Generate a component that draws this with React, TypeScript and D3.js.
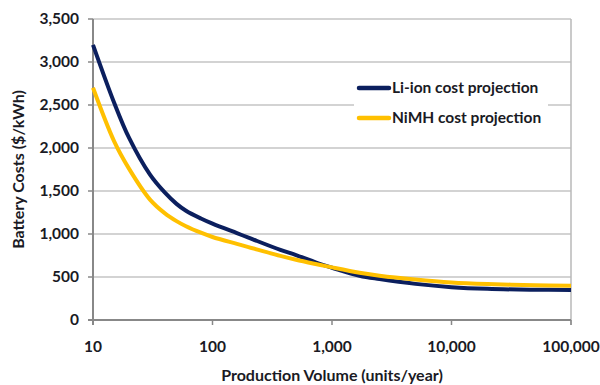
import React from "react";
import * as d3 from "d3";

const volumes = [10, 15, 20, 30, 40, 50, 60, 80, 100, 160, 200, 370, 500, 800, 1000, 1700, 2500, 5000, 10000, 20000, 50000, 100000];
const liIonCosts = [3200, 2530, 2120, 1690, 1480, 1350, 1270, 1180, 1120, 1010, 958, 815, 755, 650, 608, 515, 476, 420, 382, 362, 352, 349];
const nimhCosts = [2700, 2080, 1760, 1400, 1240, 1150, 1090, 1015, 965, 885, 848, 745, 700, 640, 612, 550, 515, 470, 436, 418, 405, 399];
const yTicks = [0, 500, 1000, 1500, 2000, 2500, 3000, 3500];
const xTicks = [10, 100, 1000, 10000, 100000];
const seriesNames = ["Li-ion cost projection", "NiMH cost projection"];
const seriesColors = ["#0b1f5e", "#ffc000"];

const width = 600;
const height = 385;
const margin = { top: 19, right: 29, bottom: 65, left: 93 };
const font = "Lato, 'Open Sans', sans-serif";
const ink = "#1a1a24";

export default function App() {
  const x = d3
    .scaleLog()
    .domain([10, 100000])
    .range([margin.left, width - margin.right]);
  const y = d3
    .scaleLinear()
    .domain([0, 3500])
    .range([height - margin.bottom, margin.top]);

  const line = d3
    .line<[number, number]>()
    .x((d) => x(d[0]))
    .y((d) => y(d[1]))
    .curve(d3.curveCatmullRom.alpha(0.5));

  const series = [liIonCosts, nimhCosts].map((vals) =>
    volumes.map((v, i) => [v, vals[i]] as [number, number])
  );

  const x0 = x.range()[0];
  const x1 = x.range()[1];
  const yb = y(0);

  return (
    <svg
      width={width}
      height={height}
      style={{ position: "absolute", left: 0, top: 0, background: "#fff" }}
    >
      {yTicks.map((t) => (
        <g key={t}>
          {t > 0 && (
            <line x1={x0} x2={x1} y1={y(t)} y2={y(t)} stroke="#c4c4c4" strokeWidth={1.5} />
          )}
          <line x1={x0 - 5} x2={x0} y1={y(t)} y2={y(t)} stroke="#888" strokeWidth={1.5} />
          <text
            x={79}
            y={y(t)}
            dy="0.35em"
            textAnchor="end"
            fontFamily={font}
            fontWeight="bold"
            fontSize={15.5}
            fill={ink}
          >
            {d3.format(",")(t)}
          </text>
        </g>
      ))}
      <line x1={x1} x2={x1} y1={margin.top} y2={yb + 5} stroke="#b8b8b8" strokeWidth={1.5} />
      {xTicks.map((t) => (
        <g key={t}>
          <line x1={x(t)} x2={x(t)} y1={yb} y2={yb + 5} stroke="#888" strokeWidth={1.5} />
          <text
            x={x(t)}
            y={347}
            dy="0.35em"
            textAnchor="middle"
            fontFamily={font}
            fontWeight="bold"
            fontSize={15.5}
            fill={ink}
          >
            {d3.format(",")(t)}
          </text>
        </g>
      ))}
      <line x1={x0} x2={x0} y1={margin.top} y2={yb + 5} stroke="#888" strokeWidth={2} />
      <line x1={x0 - 5} x2={x1} y1={yb} y2={yb} stroke="#888" strokeWidth={2} />

      {series.map((s, i) => (
        <path
          key={i}
          d={line(s) ?? ""}
          fill="none"
          stroke={seriesColors[i]}
          strokeWidth={4}
        />
      ))}

      <rect x={354} y={72} width={194} height={60} fill="#fff" />
      {seriesNames.map((name, i) => (
        <g key={name} transform={`translate(359, ${88 + i * 30})`}>
          <line x1={0} x2={30} y1={0} y2={0} stroke={seriesColors[i]} strokeWidth={4.5} strokeLinecap="round" />
          <text
            x={33}
            y={0}
            dy="0.35em"
            fontFamily={font}
            fontWeight="bold"
            fontSize={15.5}
            fill={ink}
          >
            {name}
          </text>
        </g>
      ))}

      <text
        transform={`translate(18, ${(margin.top + yb) / 2}) rotate(-90)`}
        textAnchor="middle"
        dy="0.35em"
        fontFamily={font}
        fontWeight="bold"
        fontSize={16}
        fill={ink}
      >
        Battery Costs ($/kWh)
      </text>
      <text
        x={(x0 + x1) / 2}
        y={375}
        dy="0.35em"
        textAnchor="middle"
        fontFamily={font}
        fontWeight="bold"
        fontSize={16}
        fill={ink}
      >
        Production Volume (units/year)
      </text>
    </svg>
  );
}
